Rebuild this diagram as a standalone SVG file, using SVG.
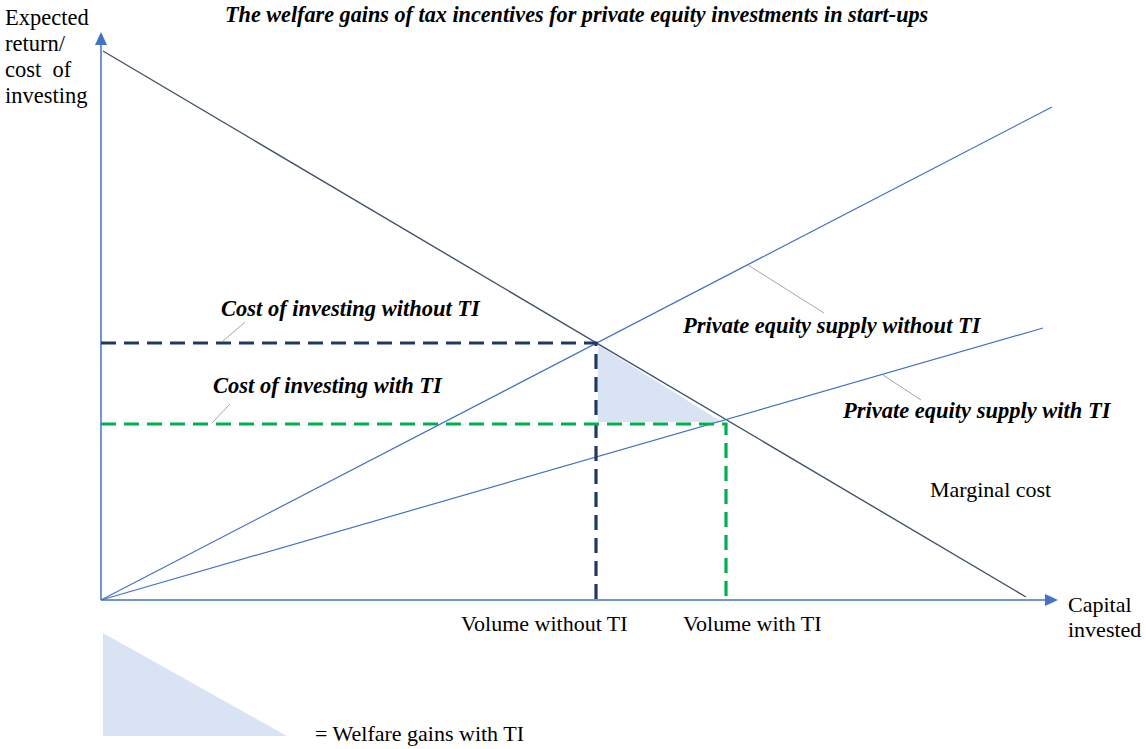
<svg xmlns="http://www.w3.org/2000/svg" width="1146" height="749" viewBox="0 0 1146 749">
<style>
.t{font-family:"Liberation Serif","Times New Roman",serif;font-size:22px;fill:#000}
.bi{font-family:"Liberation Serif","Times New Roman",serif;font-size:22.5px;font-weight:bold;font-style:italic;fill:#000}
.axis{stroke:#4472C4;stroke-width:1.5;fill:none}
.sup{stroke:#4472C4;stroke-width:1.2;fill:none}
.mc{stroke:#44546A;stroke-width:1.4;fill:none}
.lead{stroke:#A6A6A6;stroke-width:1;fill:none}
.dn{stroke:#1F3864;stroke-width:3.2;stroke-dasharray:15 8;fill:none}
.dg{stroke:#00B050;stroke-width:3.2;stroke-dasharray:15 8;fill:none}
.area{fill:#DAE3F3}
</style>
<rect width="1146" height="749" fill="#fff"/>
<g id="welfare-area"><polygon class="area" points="598,345 598,422 722,422"/></g>
<g id="connectors">
<line class="axis" x1="101" y1="600" x2="101" y2="44"/>
<polygon points="101,32 95,45 107,45" fill="#4472C4"/>
<line class="axis" x1="101" y1="600" x2="1046" y2="600"/>
<polygon points="1058,600 1045,594 1045,606" fill="#4472C4"/>
<line class="mc" x1="103" y1="51" x2="1026" y2="597"/>
<line class="sup" x1="101" y1="600" x2="1052" y2="107"/>
<line class="sup" x1="101" y1="600" x2="1043" y2="328"/>
<path class="dn" d="M101,343 H596 V600"/>
<path class="dg" d="M101,424 H726 V600"/>
<line class="lead" x1="748" y1="265" x2="824" y2="313"/>
<line class="lead" x1="883" y1="375" x2="921" y2="400"/>
<line class="lead" x1="245" y1="322" x2="223" y2="341"/>
<line class="lead" x1="230" y1="404" x2="212" y2="423"/>
</g>
<g id="y-label">
<text class="t" x="5" y="25" style="font-size:22.5px">Expected</text>
<text class="t" x="5" y="51" style="font-size:22.5px">return/</text>
<text class="t" x="5" y="77" style="font-size:22.5px" xml:space="preserve">cost  of</text>
<text class="t" x="5" y="103" style="font-size:22.5px">investing</text>
</g>
<g id="title"><text class="bi" x="225" y="22" style="font-size:22.2px">The welfare gains of tax incentives for private equity investments in start-ups</text></g>
<g id="cost-without"><text class="bi" x="221" y="316">Cost of investing without TI</text></g>
<g id="cost-with"><text class="bi" x="213" y="393">Cost of investing with TI</text></g>
<g id="supply-without"><text class="bi" x="683" y="333">Private equity supply without TI</text></g>
<g id="supply-with"><text class="bi" x="843" y="418">Private equity supply with TI</text></g>
<g id="marginal-cost"><text class="t" x="930" y="497">Marginal cost</text></g>
<g id="x-label">
<text class="t" x="1068" y="612">Capital</text>
<text class="t" x="1068" y="637">invested</text>
</g>
<g id="vol-without"><text class="t" x="461" y="631">Volume without TI</text></g>
<g id="vol-with"><text class="t" x="683" y="631">Volume with TI</text></g>
<g id="legend">
<polygon class="area" points="103,633 103,736 287,736"/>
<text class="t" x="315" y="741">= Welfare gains with TI</text>
</g>
</svg>
